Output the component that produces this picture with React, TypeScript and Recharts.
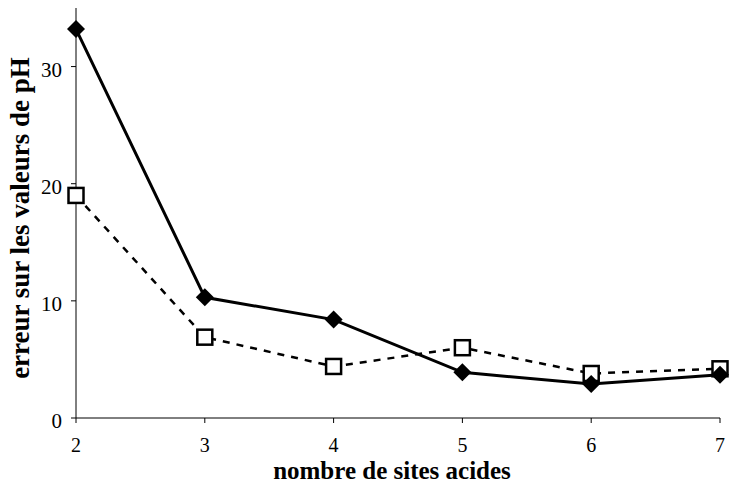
import React from 'react';
import { LineChart, Line, XAxis, YAxis, Label } from 'recharts';

const sites = [2, 3, 4, 5, 6, 7];
const errA = [33.2, 10.3, 8.4, 3.9, 2.9, 3.7];
const errB = [19.0, 6.9, 4.4, 6.0, 3.8, 4.2];
const xTicks = [2, 3, 4, 5, 6, 7];
const yTicks = [0, 10, 20, 30];

const data = sites.map((s, i) => ({ sites: s, a: errA[i], b: errB[i] }));

const FONT = '"Liberation Serif", "Times New Roman", serif';

const Diamond = (props: any) => {
  const { cx, cy } = props;
  if (cx == null || cy == null) return null;
  const r = 9;
  return <path d={`M${cx},${cy - r}L${cx + r},${cy}L${cx},${cy + r}L${cx - r},${cy}Z`} fill="#000" />;
};

const Square = (props: any) => {
  const { cx, cy } = props;
  if (cx == null || cy == null) return null;
  const h = 7.5;
  return <rect x={cx - h} y={cy - h} width={h * 2} height={h * 2} fill="#fff" stroke="#000" strokeWidth={2.5} />;
};

const XTick = (props: any) => (
  <text x={props.x} y={props.y} dy={13} textAnchor="middle" fontFamily={FONT} fontSize={20} fill="#000">
    {props.payload.value}
  </text>
);

const YTick = (props: any) => (
  <text x={props.x} y={props.y} dy={10} textAnchor="end" fontFamily={FONT} fontSize={21} fill="#000">
    {props.payload.value}
  </text>
);

const YTitle = (props: any) => {
  const vb = props.viewBox || { x: 0, y: 0, width: 0, height: 0 };
  const x = vb.x + 29;
  const y = vb.y + vb.height / 2 + 5;
  return (
    <text x={x} y={y} transform={`rotate(-90, ${x}, ${y})`} textAnchor="middle"
      fontFamily={FONT} fontWeight="bold" fontSize={27} fill="#000">
      erreur sur les valeurs de pH
    </text>
  );
};

const XTitle = (props: any) => {
  const vb = props.viewBox || { x: 0, y: 0, width: 0, height: 0 };
  return (
    <text x={vb.x + vb.width / 2 - 6} y={vb.y + vb.height - 4} textAnchor="middle"
      fontFamily={FONT} fontWeight="bold" fontSize={25} fill="#000">
      nombre de sites acides
    </text>
  );
};

export default function App() {
  return (
    <div style={{ position: 'absolute', left: 0, top: 0, background: '#fff' }}>
      <LineChart width={729} height={483} data={data} margin={{ top: 8, right: 9, bottom: 0, left: 0 }}
        style={{ fontFamily: FONT }}>
        <XAxis dataKey="sites" type="number" domain={[2, 7]} ticks={xTicks} height={65}
          axisLine={{ stroke: '#000' }} tickLine={{ stroke: '#000' }} tickSize={5} tickMargin={16}
          tick={<XTick />}>
          <Label content={<XTitle />} />
        </XAxis>
        <YAxis type="number" domain={[0, 35]} ticks={yTicks} width={76}
          axisLine={{ stroke: '#000' }} tickLine={{ stroke: '#000' }} tickSize={5} tickMargin={9}
          tick={<YTick />}>
          <Label content={<YTitle />} />
        </YAxis>
        <Line dataKey="b" stroke="#000" strokeWidth={2.5} strokeDasharray="7 7" dot={<Square />}
          isAnimationActive={false} />
        <Line dataKey="a" stroke="#000" strokeWidth={3} dot={<Diamond />} isAnimationActive={false} />
      </LineChart>
    </div>
  );
}
